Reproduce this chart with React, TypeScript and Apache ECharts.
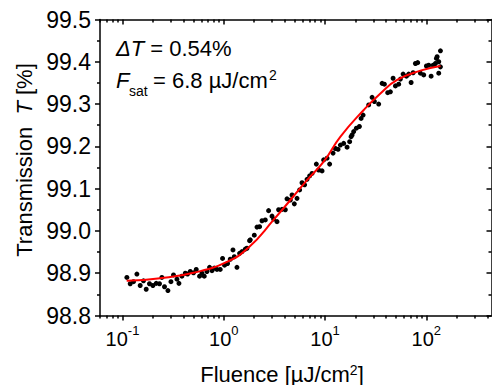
import React, { useEffect, useRef } from "react";
import * as echarts from "echarts";

// Measured data (fluence in µJ/cm², transmission in %)
const fluence = [
  0.1105, 0.1192, 0.1285, 0.1388, 0.1496, 0.1612, 0.1715, 0.1848, 0.1997, 0.2153,
  0.232, 0.245, 0.26, 0.281, 0.301, 0.319, 0.345, 0.361, 0.386, 0.417,
  0.439, 0.467, 0.503, 0.535, 0.577, 0.609, 0.642, 0.682, 0.724, 0.765,
  0.806, 0.857, 0.923, 0.973, 1.018, 1.09, 1.159, 1.233, 1.27, 1.35,
  1.433, 1.513, 1.631, 1.799,
  1.695, 1.827, 2.002, 2.129, 2.258, 2.385, 2.571, 2.772, 2.995, 3.105,
  3.356, 3.48, 3.76, 4.053, 4.212, 4.542, 4.721, 4.974, 5.289, 5.61,
  5.925, 6.286, 6.639, 7.043, 7.437, 8.204, 8.646, 9.341, 9.687, 10.47,
  11.1, 12.0, 12.65, 13.45, 14.17, 15.27, 16.5, 17.5, 18.49,
  18.07, 19.17, 20.38, 21.83, 22.69, 23.75, 26.97, 29.14, 30.7, 33.86,
  36.58, 38.55, 41.56, 44.19, 46.98, 49.52, 53.38, 55.46, 58.99, 63.61,
  67.02, 70.77, 74.07, 78.04, 82.22, 87.44, 94.26, 100.2, 105.6, 111.5,
  116.8, 123.0, 127.8, 132.6, 137.8, 137.8, 132.6, 125.8,
];
const transmission = [
  98.89, 98.875, 98.88, 98.898, 98.871, 98.882, 98.862, 98.875, 98.871, 98.876,
  98.875, 98.89, 98.868, 98.859, 98.88, 98.896, 98.886, 98.876, 98.893, 98.9,
  98.898, 98.904, 98.901, 98.909, 98.893, 98.9, 98.893, 98.904, 98.914, 98.906,
  98.912, 98.909, 98.909, 98.935, 98.919, 98.923, 98.933, 98.955, 98.939, 98.914,
  98.947, 98.951, 98.957, 98.977,
  98.959, 98.979, 98.99, 99.009, 99.01, 99.024, 99.026, 99.048, 99.035, 99.028,
  99.022, 99.05, 99.051, 99.05, 99.076, 99.073, 99.085, 99.064, 99.077, 99.097,
  99.114, 99.109, 99.122, 99.13, 99.136, 99.158, 99.144, 99.142, 99.168, 99.172,
  99.158, 99.184, 99.195, 99.193, 99.203, 99.207, 99.198, 99.211, 99.227,
  99.223, 99.235, 99.243, 99.247, 99.266, 99.274, 99.298, 99.316, 99.306, 99.3,
  99.349, 99.347, 99.327, 99.329, 99.361, 99.343, 99.347, 99.359, 99.371, 99.366,
  99.371, 99.351, 99.374, 99.396, 99.398, 99.373, 99.369, 99.39, 99.392, 99.366,
  99.392, 99.396, 99.412, 99.4, 99.426, 99.388, 99.373, 99.408,
];

// Fit curve
const fitFluence = [0.11, 0.236, 0.503, 1.075, 1.76, 3.1, 6.64, 9.69, 14.2, 24.1, 35.2, 51.5, 87.4, 138];
const fitTransmission = [98.882, 98.888, 98.901, 98.927, 98.961, 99.026, 99.12, 99.164, 99.223, 99.286, 99.325, 99.357, 99.379, 99.39];

const xMajorTicks = [0.1, 1, 10, 100];
const xMinorTicks = [
  0.06, 0.07, 0.08, 0.09,
  0.2, 0.3, 0.4, 0.5, 0.6, 0.7, 0.8, 0.9,
  2, 3, 4, 5, 6, 7, 8, 9,
  20, 30, 40, 50, 60, 70, 80, 90,
  200, 300, 400,
];
const xMin = 0.06;
const xMax = 440;
const yMin = 98.8;
const yMax = 99.5;
const yStep = 0.1;

const FONT = "'Liberation Sans', Arial, sans-serif";
const BLACK = "#000";

export default function App() {
  const ref = useRef<HTMLDivElement>(null);

  useEffect(() => {
    const chart = echarts.init(ref.current!, null, { renderer: "svg" });

    const lineStyle = { color: BLACK, width: 1.5 };

    const xLabelFormatter = (v: number) => {
      const e = Math.round(Math.log10(v));
      if (Math.abs(v - Math.pow(10, e)) > 1e-6 * Math.pow(10, e)) return "";
      return `10{sup|${e}}`;
    };

    const logAxis = (extra: any) => ({
      type: "log",
      logBase: 10,
      min: xMin,
      max: xMax,
      splitLine: { show: false },
      axisLine: { show: false, onZero: false, lineStyle },
      axisLabel: { show: false },
      ...extra,
    });

    const option: any = {
      animation: false,
      backgroundColor: "#fff",
      grid: { left: 100, right: 0.5, top: 19.5, bottom: 69.5, containLabel: false },
      xAxis: [
        logAxis({
          position: "bottom",
          axisLine: { show: true, onZero: false, lineStyle },
          axisTick: { show: true, inside: false, length: 5, lineStyle, customValues: xMajorTicks },
          axisLabel: {
            show: true,
            customValues: xMajorTicks,
            formatter: xLabelFormatter,
            color: BLACK,
            fontFamily: FONT,
            fontSize: 20,
            lineHeight: 30,
            margin: 8,
            rich: {
              sup: { fontSize: 13, lineHeight: 13, verticalAlign: "top", fontFamily: FONT, color: BLACK },
            },
          },
        }),
        logAxis({
          position: "bottom",
          axisTick: { show: true, inside: false, length: 3, lineStyle, customValues: xMinorTicks },
        }),
        logAxis({
          position: "top",
          axisLine: { show: true, onZero: false, lineStyle },
          axisTick: { show: true, inside: true, length: 5, lineStyle, customValues: xMajorTicks },
        }),
        logAxis({
          position: "top",
          axisTick: { show: true, inside: true, length: 3, lineStyle, customValues: xMinorTicks },
        }),
      ],
      yAxis: [
        {
          type: "value",
          position: "left",
          min: yMin,
          max: yMax,
          interval: yStep,
          splitLine: { show: false },
          axisLine: { show: true, onZero: false, lineStyle },
          axisTick: { show: true, inside: false, length: 5, lineStyle },
          minorTick: { show: true, splitNumber: 2, length: 3, lineStyle },
          axisLabel: {
            formatter: (v: number) => v.toFixed(1),
            color: BLACK,
            fontFamily: FONT,
            fontSize: 23,
            margin: 9,
          },
        },
        {
          type: "value",
          position: "right",
          min: yMin,
          max: yMax,
          interval: yStep,
          splitLine: { show: false },
          axisLine: { show: true, onZero: false, lineStyle },
          axisTick: { show: true, inside: true, length: 5, lineStyle },
          minorTick: { show: true, splitNumber: 2, length: 3, lineStyle },
          axisLabel: { show: false },
        },
      ],
      series: [
        {
          type: "scatter",
          xAxisIndex: 0,
          yAxisIndex: 0,
          symbol: "circle",
          symbolSize: 5,
          itemStyle: { color: BLACK, opacity: 1 },
          data: fluence.map((f, i) => [f, transmission[i]]),
          z: 2,
        },
        {
          type: "line",
          xAxisIndex: 0,
          yAxisIndex: 0,
          showSymbol: false,
          smooth: true,
          lineStyle: { color: "#ff0000", width: 2 },
          data: fitFluence.map((f, i) => [f, fitTransmission[i]]),
          z: 3,
        },
      ],
      graphic: [
        {
          type: "text",
          x: 24,
          y: 160,
          rotation: Math.PI / 2,
          style: {
            text: "Transmission  {i|T} [%]",
            fontFamily: FONT,
            fontSize: 22,
            fill: BLACK,
            align: "center",
            verticalAlign: "middle",
            rich: { i: { fontStyle: "italic", fontSize: 22, fontFamily: FONT, fill: BLACK } },
          },
        },
        {
          type: "text",
          x: 282,
          y: 385,
          style: {
            text: "Fluence [µJ/cm{sup|2}]",
            fontFamily: FONT,
            fontSize: 22,
            lineHeight: 22,
            fill: BLACK,
            align: "center",
            verticalAlign: "bottom",
            rich: { sup: { fontSize: 14, lineHeight: 10, verticalAlign: "top", fontFamily: FONT, fill: BLACK } },
          },
        },
        {
          type: "text",
          x: 116,
          y: 48,
          style: {
            text: "{i|ΔT} = 0.54%",
            fontFamily: FONT,
            fontSize: 22,
            fill: BLACK,
            align: "left",
            verticalAlign: "middle",
            rich: { i: { fontStyle: "italic", fontSize: 22, fontFamily: FONT, fill: BLACK } },
          },
        },
        {
          type: "text",
          x: 116,
          y: 80,
          style: { text: "F", fontFamily: FONT, fontStyle: "italic", fontSize: 22, fill: BLACK, align: "left", verticalAlign: "middle" },
        },
        {
          type: "text",
          x: 129,
          y: 91,
          style: { text: "sat", fontFamily: FONT, fontSize: 14, fill: BLACK, align: "left", verticalAlign: "middle" },
        },
        {
          type: "text",
          x: 153,
          y: 80,
          style: { text: "= 6.8 µJ/cm", fontFamily: FONT, fontSize: 22, fill: BLACK, align: "left", verticalAlign: "middle" },
        },
        {
          type: "text",
          x: 269,
          y: 75,
          style: { text: "2", fontFamily: FONT, fontSize: 14, fill: BLACK, align: "left", verticalAlign: "middle" },
        },
      ],
    };

    chart.setOption(option);
    return () => chart.dispose();
  }, []);

  return <div ref={ref} style={{ position: "absolute", left: 0, top: 0, width: 492, height: 385 }} />;
}
